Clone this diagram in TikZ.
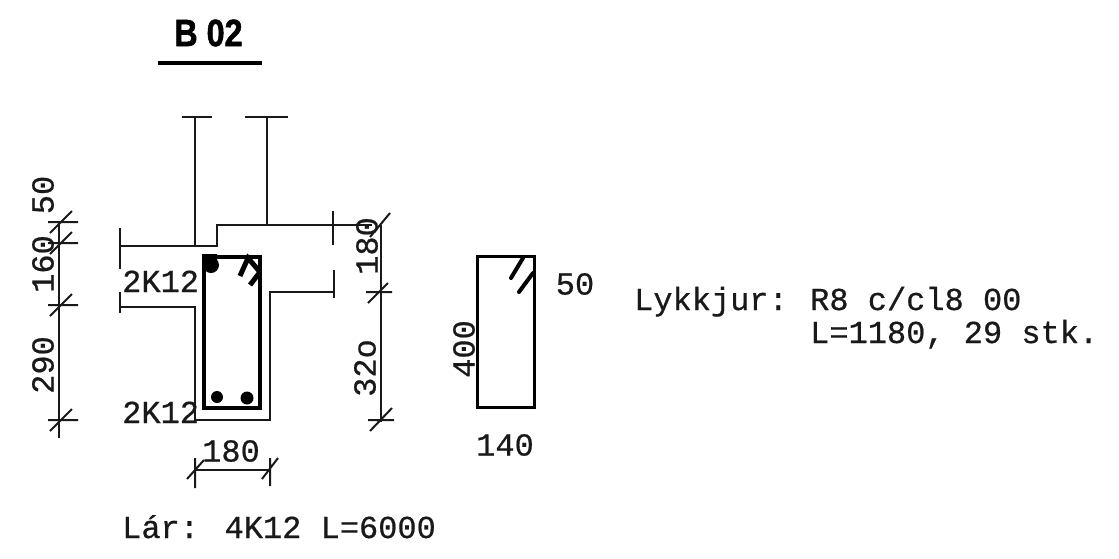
\documentclass[tikz,border=0pt]{standalone}
\usepackage{fontspec}
\setmainfont{Liberation Mono}[FakeBold=0.6]
\newfontfamily\titlefont{Liberation Sans}[FakeBold=1.5]
\begin{document}
\begin{tikzpicture}[x=1pt,y=-1pt,
  outline/.style={line width=2.3pt,black!90,line join=miter},
  thin tick/.style={line width=2pt,black!90},
  heavy/.style={line width=4.2pt,black,line join=miter},
  typed/.style={font=\fontsize{32}{32}\selectfont,inner sep=0pt,text=black!90},
  typedleft/.style={typed,anchor=base west},
  typedrot/.style={typed,rotate=90}]
\useasboundingbox (0,0) rectangle (1119,558);
\fill[white] (0,0) rectangle (1119,558);
% title
\node[inner sep=0pt,anchor=center,text=black,xscale=0.85] (title) at (208.5,33) {\fontsize{38}{38}\selectfont\titlefont\bfseries B 02};
\draw[line width=3.4pt] (158,63) -- (262,63);
% webs
\draw[outline] (182,117) -- (212,117) (195,117) -- (195,246);
\draw[outline] (245,117) -- (288,117) (267,117) -- (267,225);
% beam outline
\draw[outline] (120,246) -- (217,246) -- (217,225) -- (333,225) -- (372,225);
\draw[outline] (120,228) -- (120,269) (120,292) -- (120,313);
\draw[outline] (120,307) -- (195,307) -- (195,420) -- (270,420) -- (270,292) -- (334,292);
\draw[outline] (333,211) -- (333,245) (334,270) -- (334,298);
% stirrup and bars
\draw[heavy] (204,257) rectangle (260,408);
\fill (217,397) circle (6pt) (247,398) circle (6.5pt);
\fill (202,254) rectangle (217,266) (211,265) circle (8pt);
\draw[line width=5pt] (240,276) -- (248,258) -- (260,272) (250,285) -- (260,272);
% left dimension
\draw[thin tick] (59,222) -- (59,438);
\foreach \yy in {222,243,305,420}{
  \draw[thin tick] (48,\yy) -- (78,\yy) (50,\yy+11) -- (72,\yy-11);
}
% right dimension
\draw[thin tick] (381,225) -- (381,422);
\draw[thin tick] (370,237) -- (390,213);
\draw[thin tick] (366,292) -- (392,292) (368,303) -- (388,283);
\draw[thin tick] (368,420) -- (394,420) (370,431) -- (392,408);
% bottom dimension
\draw[thin tick] (195,470) -- (270,470);
\draw[thin tick] (195,458) -- (195,488) (187,479) -- (204,460);
\draw[thin tick] (270,458) -- (270,486) (262,479) -- (278,458);
% section
\draw[line width=3pt,black] (477,256) rectangle (534,407);
\draw[line width=4pt,line cap=round] (511,278) -- (523,258) (519,292) -- (533,273);
% texts
\node[typedrot] (t50) at (43,195) {50};
\node[typedrot] (t160) at (43,264) {160};
\node[typedrot] (t290) at (43,365) {290};
\node[typedrot] (t180r) at (367,246) {180};
\node[typedrot] (t320) at (365,368) {32o};
\node[typedleft] (k1) at (122,292) {2K12};
\node[typedleft] (k2) at (122,423) {2K12};
\node[typed] (t180b) at (231,451) {180};
\node[typed] (t50s) at (575,284) {50};
\node[typedrot] (t400) at (464,349) {400};
\node[typed] (t140) at (505,445) {140};
\node[typedleft] (lyk) at (634,310) {Lykkjur:};
\node[typedleft] (r8) at (810,310) {R8 c/cl8 00};
\node[typedleft] (len) at (810,343) {L=1180, 29 stk.};
\node[typedleft] (lar) at (122,538) {Lár: 4K12 L=6000};
\end{tikzpicture}
\end{document}
